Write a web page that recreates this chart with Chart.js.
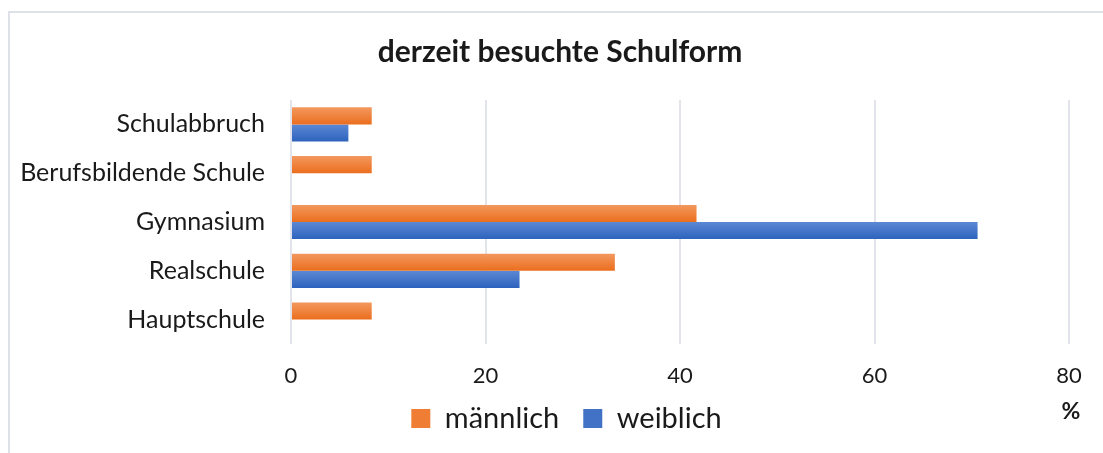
<!DOCTYPE html>
<html>
<head>
<meta charset="utf-8">
<script src="https://cdn.jsdelivr.net/npm/chart.js@4"></script>
<style>
  body { margin: 0; background: #fff; }
  #wrap { position: relative; width: 1103px; height: 453px; }
  #rahmen { position: absolute; left: 8px; top: 11px; width: 1110px; height: 460px;
            border: 2px solid #dde2e9; pointer-events: none; }
</style>
</head>
<body>
<div id="wrap">
  <canvas id="graf" width="1103" height="453"></canvas>
  <div id="rahmen"></div>
</div>
<script>
const graf = document.querySelector('#graf');

// Kategorien (von oben nach unten)
const schulformen = ['Schulabbruch', 'Berufsbildende Schule', 'Gymnasium', 'Realschule', 'Hauptschule'];
const maennlich = [8.3, 8.3, 41.7, 33.3, 8.3];
const weiblich = [5.9, 0, 70.6, 23.5, 0];
const xTicks = [0, 20, 40, 60, 80];

const schrift = 'Lato, "Open Sans", sans-serif';

// Verlauf innerhalb jedes Balkens (oben hell, unten dunkel)
function verlauf(oben, unten) {
    return ctx => {
        const el = ctx.element;
        if (!el || el.y == null || !el.height) return unten;
        const c = ctx.chart.ctx;
        const g = c.createLinearGradient(0, el.y - el.height / 2, 0, el.y + el.height / 2);
        g.addColorStop(0, oben);
        g.addColorStop(1, unten);
        return g;
    };
}

// Titel und Legende etwas verschieben, "%" neben die Legende
const extras = {
    id: 'extras',
    afterLayout(chart) {
        chart.titleBlock.left += 29;
        const lg = chart.legend;
        lg.left += 42;
        lg.top -= 10;
        lg.bottom -= 10;
    },
    afterDraw(chart) {
        const c = chart.ctx;
        c.save();
        c.font = 'bold 23px ' + schrift;
        c.fillStyle = '#1a1a1a';
        c.textAlign = 'center';
        c.textBaseline = 'middle';
        c.fillText('%', chart.scales.x.right + 2, chart.legend.top + 32);
        c.restore();
    }
};

const chart = new Chart(graf, {
    type: 'bar',
    data: {
        labels: schulformen,
        datasets: [{
            label: 'männlich',
            data: maennlich,
            backgroundColor: verlauf('#f3985e', '#eb6e1e'),
            categoryPercentage: 0.7,
            barPercentage: 1
        }, {
            label: 'weiblich',
            data: weiblich,
            backgroundColor: verlauf('#5c88d4', '#2d63bd'),
            categoryPercentage: 0.7,
            barPercentage: 1
        }]
    },
    options: {
        indexAxis: 'y',
        responsive: false,
        animation: false,
        layout: { padding: { left: 22, right: 34, top: 0, bottom: 0 } },
        plugins: {
            title: {
                display: true,
                text: 'derzeit besuchte Schulform',
                color: '#1a1a1a',
                font: { family: schrift, size: 30, weight: 'bold' },
                padding: { top: 34, bottom: 30 }
            },
            legend: {
                position: 'bottom',
                labels: {
                    color: '#1a1a1a',
                    font: { family: schrift, size: 29 },
                    boxWidth: 19,
                    boxHeight: 19,
                    padding: 24,
                    generateLabels(ch) {
                        const farben = ['#ef7d33', '#4272c6'];
                        return ch.data.datasets.map((d, i) => ({
                            text: d.label,
                            fillStyle: farben[i],
                            strokeStyle: farben[i],
                            lineWidth: 0,
                            fontColor: '#1a1a1a',
                            datasetIndex: i
                        }));
                    }
                }
            },
            tooltip: { enabled: false }
        },
        scales: {
            x: {
                min: 0,
                max: 80,
                afterBuildTicks: s => { s.ticks = xTicks.map(v => ({ value: v })); },
                afterFit: s => { s.height = 46; },
                grid: { color: '#e1e5eb', lineWidth: 2, drawTicks: false },
                border: { display: false },
                ticks: { color: '#1a1a1a', font: { family: schrift, size: 22 }, padding: 19 }
            },
            y: {
                grid: { display: false, drawTicks: false },
                border: { display: false },
                afterFit: s => { s.width = 269; },
                ticks: { color: '#1a1a1a', font: { family: schrift, size: 25 }, padding: 26 }
            }
        }
    },
    plugins: [extras]
});
// zweiter Durchlauf, damit die Verläufe die Balkenpositionen kennen
chart.update('none');
</script>
</body>
</html>
